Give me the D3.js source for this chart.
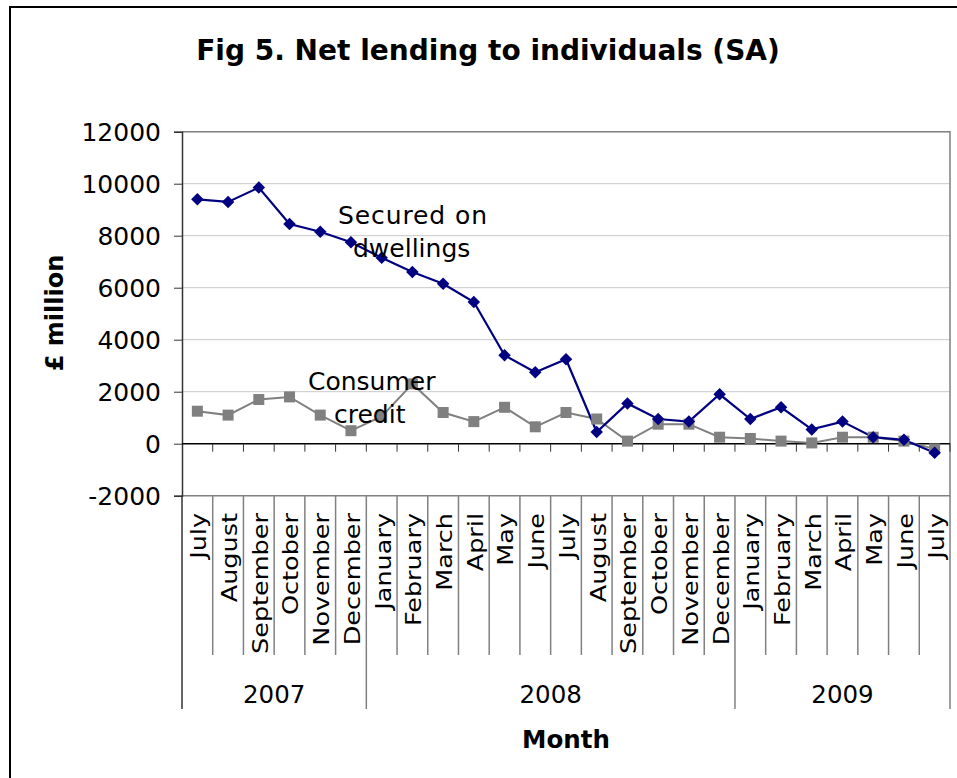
<!DOCTYPE html>
<html>
<head>
<meta charset="utf-8">
<script src="https://cdn.jsdelivr.net/npm/d3@7"></script>
<style>
  body { margin: 0; background: #fff; }
  text { font-family: "DejaVu Sans", Verdana, sans-serif; fill: #000; }
</style>
</head>
<body>
<svg id="chart" width="957" height="778"></svg>
<script>
const months = ["July", "August", "September", "October", "November", "December",
  "January", "February", "March", "April", "May", "June", "July", "August", "September",
  "October", "November", "December", "January", "February", "March", "April", "May", "June", "July"];
const years = ["2007", "2008", "2009"];
const yearCounts = [6, 12, 7];
const secured = [9400, 9300, 9850, 8450, 8150, 7750, 7150, 6600, 6150, 5450, 3400, 2750, 3250,
  450, 1550, 950, 850, 1900, 950, 1400, 550, 850, 250, 150, -350];
const consumer = [1250, 1100, 1700, 1800, 1100, 500, 1050, 2300, 1200, 850, 1400, 650, 1200,
  950, 100, 750, 750, 250, 200, 100, 30, 250, 250, 100, -200];
const yTicks = [-2000, 0, 2000, 4000, 6000, 8000, 10000, 12000];

const svg = d3.select("#chart");
const plotL = 182, plotR = 950, plotT = 131.7, plotB = 495.7;

const x = d3.scaleBand().domain(d3.range(months.length)).range([plotL, plotR]);
const y = d3.scaleLinear().domain([-2000, 12000]).range([plotB, plotT]);
const cx = i => x(i) + x.bandwidth() / 2;

// outer chart border (runs off the right and bottom of the picture)
svg.append("path").attr("d", "M10,1000 V7 H1000")
  .attr("fill", "none").attr("stroke", "#000").attr("stroke-width", 2);

// title
svg.append("text").attr("x", 488).attr("y", 60).attr("text-anchor", "middle")
  .attr("font-size", 28).attr("font-weight", "bold")
  .text("Fig 5. Net lending to individuals (SA)");

// gridlines
svg.append("g").selectAll("line").data(yTicks.filter(d => d > -2000 && d !== 0)).join("line")
  .attr("x1", plotL).attr("x2", plotR).attr("y1", d => y(d)).attr("y2", d => y(d))
  .attr("stroke", "#c8c8c8").attr("stroke-width", 1);

// plot area border (top, right, bottom)
svg.append("path").attr("d", `M${plotL},${plotT} H${plotR} V${plotB} H${plotL}`)
  .attr("fill", "none").attr("stroke", "#808080").attr("stroke-width", 1.5);

// y axis
const yAxis = svg.append("g").attr("transform", `translate(${plotL},0)`)
  .call(d3.axisLeft(y).tickValues(yTicks).tickSize(8).tickPadding(13).tickFormat(d => String(d)));
yAxis.select(".domain").attr("stroke", "#333").attr("stroke-width", 1.5);
yAxis.selectAll(".tick line").attr("stroke", "#333");
yAxis.selectAll("text").attr("font-size", 25).attr("font-family", "DejaVu Sans")
  .attr("fill", "#000").attr("dy", "0.36em");

svg.append("text").attr("transform", "translate(63,313) rotate(-90)")
  .attr("text-anchor", "middle").attr("font-size", 24).attr("font-weight", "bold")
  .text("£ million");

// zero line and its ticks
svg.append("line").attr("x1", plotL).attr("x2", plotR).attr("y1", y(0)).attr("y2", y(0))
  .attr("stroke", "#000").attr("stroke-width", 1.5);
svg.append("g").selectAll("line").data(d3.range(1, months.length + 1)).join("line")
  .attr("x1", i => x(i - 1) + x.bandwidth()).attr("x2", i => x(i - 1) + x.bandwidth())
  .attr("y1", y(0)).attr("y2", y(0) + 8)
  .attr("stroke", "#333").attr("stroke-width", 1);

// category boundaries below the plot
const yearEdges = [0];
yearCounts.forEach(n => yearEdges.push(yearEdges[yearEdges.length - 1] + n));
svg.append("g").selectAll("line").data(d3.range(0, months.length + 1)).join("line")
  .attr("x1", i => plotL + i * x.bandwidth()).attr("x2", i => plotL + i * x.bandwidth())
  .attr("y1", plotB)
  .attr("y2", i => yearEdges.includes(i) ? 709 : 655)
  .attr("stroke", i => i === 0 ? "#333" : "#808080").attr("stroke-width", 1.5);

// month labels
svg.append("g").selectAll("text").data(months).join("text")
  .attr("transform", (d, i) => `translate(${cx(i) + 1},513) rotate(-90) scale(1.16,1)`)
  .attr("text-anchor", "end").attr("dy", "0.36em").attr("font-size", 22)
  .text(d => d);

// year labels
svg.append("g").selectAll("text").data(years).join("text")
  .attr("x", (d, i) => plotL + (yearEdges[i] + yearEdges[i + 1]) / 2 * x.bandwidth())
  .attr("y", 703).attr("text-anchor", "middle").attr("font-size", 24.5)
  .text(d => d);

svg.append("text").attr("x", 566).attr("y", 748).attr("text-anchor", "middle")
  .attr("font-size", 24.5).attr("font-weight", "bold").text("Month");

// series lines
const line = d3.line().x((d, i) => cx(i)).y(d => y(d));
svg.append("path").datum(consumer).attr("d", line)
  .attr("fill", "none").attr("stroke", "#808080").attr("stroke-width", 2);
svg.append("path").datum(secured).attr("d", line)
  .attr("fill", "none").attr("stroke", "#000080").attr("stroke-width", 2.2);

// markers
svg.append("g").selectAll("rect").data(consumer).join("rect")
  .attr("x", (d, i) => cx(i) - 5.5).attr("y", d => y(d) - 5.5)
  .attr("width", 11).attr("height", 11).attr("fill", "#808080");
svg.append("g").selectAll("path").data(secured).join("path")
  .attr("d", d3.symbol().type(d3.symbolSquare).size(78))
  .attr("transform", (d, i) => `translate(${cx(i)},${y(d)}) rotate(45)`)
  .attr("fill", "#000080");

// series annotations
const notes = svg.append("g").attr("font-size", 25);
notes.append("text").attr("x", 338).attr("y", 224).attr("letter-spacing", 0.9).text("Secured on");
notes.append("text").attr("x", 353).attr("y", 257).text("dwellings");
notes.append("text").attr("x", 308).attr("y", 390).text("Consumer");
notes.append("text").attr("x", 334).attr("y", 423).text("credit");
</script>
</body>
</html>
